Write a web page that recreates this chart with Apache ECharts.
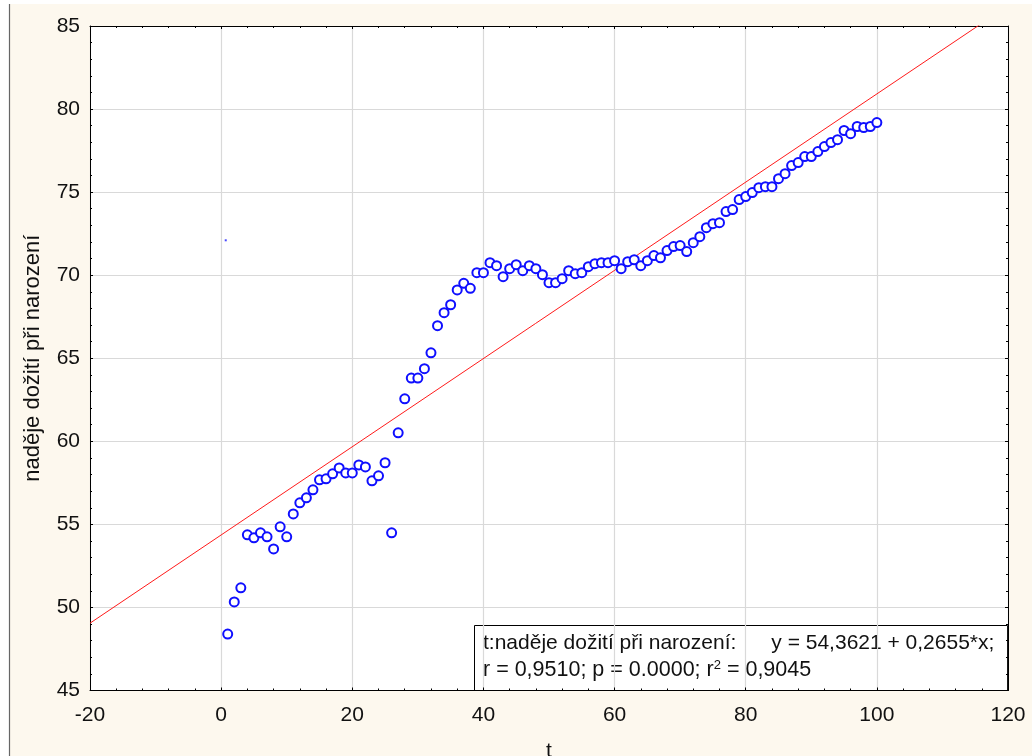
<!DOCTYPE html>
<html>
<head>
<meta charset="utf-8">
<title>naděje dožití při narození</title>
<script src="https://cdn.jsdelivr.net/npm/echarts@6/dist/echarts.min.js"></script>
<style>
  html, body { margin: 0; padding: 0; background: #ffffff; }
  #chart { width: 1032px; height: 756px; }
</style>
</head>
<body>
<div id="chart"></div>
<script>
// Time index t (x) and life expectancy at birth (y)
const tValues = [
  1, 2, 3, 4, 5, 6, 7, 8, 9, 10,
  11, 12, 13, 14, 15, 16, 17, 18, 19, 20,
  21, 22, 23, 24, 25, 26, 27, 28, 29, 30,
  31, 32, 33, 34, 35, 36, 37, 38, 39, 40,
  41, 42, 43, 44, 45, 46, 47, 48, 49, 50,
  51, 52, 53, 54, 55, 56, 57, 58, 59, 60,
  61, 62, 63, 64, 65, 66, 67, 68, 69, 70,
  71, 72, 73, 74, 75, 76, 77, 78, 79, 80,
  81, 82, 83, 84, 85, 86, 87, 88, 89, 90,
  91, 92, 93, 94, 95, 96, 97, 98, 99, 100
];
const lifeExpectancy = [
  48.40, 50.33, 51.18, 54.37, 54.19, 54.49, 54.25, 53.52, 54.85, 54.25,
  55.63, 56.30, 56.60, 57.08, 57.68, 57.74, 58.04, 58.40, 58.10, 58.10,
  58.58, 58.46, 57.62, 57.92, 58.71, 54.49, 60.51, 62.56, 63.81, 63.81,
  64.37, 65.33, 66.96, 67.74, 68.22, 69.11, 69.51, 69.21, 70.15, 70.15,
  70.75, 70.57, 69.91, 70.39, 70.63, 70.27, 70.57, 70.39, 70.03, 69.55,
  69.55, 69.79, 70.27, 70.09, 70.15, 70.51, 70.69, 70.75, 70.75, 70.87,
  70.39, 70.81, 70.93, 70.57, 70.87, 71.18, 71.05, 71.48, 71.72, 71.78,
  71.42, 71.96, 72.32, 72.86, 73.10, 73.16, 73.83, 73.95, 74.55, 74.73,
  74.97, 75.27, 75.33, 75.33, 75.81, 76.11, 76.60, 76.78, 77.14, 77.14,
  77.44, 77.74, 77.98, 78.16, 78.71, 78.52, 78.95, 78.89, 78.95, 79.19
];
// Stray single point near the y axis
const strayPoint = [[0.7, 72.1]];

// Linear fit
const intercept = 54.3621;
const slope = 0.2655;
const fitText1 = 't:naděje dožití při narození:      y = 54,3621 + 0,2655*x;';
const fitText2 = 'r = 0,9510; p = 0.0000; r{sup|2} = 0,9045';

// Axis ranges and names
const xMin = -20, xMax = 120, xStep = 20;
const yMin = 45, yMax = 85, yStep = 5;
const xName = 't';
const yName = 'naděje dožití při narození';

const points = tValues.map((t, i) => [t, lifeExpectancy[i]]);
const fitLine = [
  [xMin, intercept + slope * xMin],
  [xMax, intercept + slope * xMax]
];

const FONT = '"Liberation Sans", Arial, sans-serif';
const GRID = { left: 90, right: 24, top: 26, bottom: 65.5 };

const baseAxis = {
  axisLine: { show: true, onZero: false, lineStyle: { color: '#000', width: 1 } },
  axisTick: { show: true, inside: true, length: 3, lineStyle: { color: '#000' } },
  minorTick: { show: true, splitNumber: 5, length: 2, lineStyle: { color: '#000' } },
  axisLabel: { color: '#111', fontFamily: FONT, fontSize: 21 },
  splitLine: { show: true, lineStyle: { color: '#d9d9d9', width: 1.2 } }
};

const chart = echarts.init(document.getElementById('chart'), null, { renderer: 'canvas' });
chart.setOption({
  animation: false,
  backgroundColor: '#ffffff',
  graphic: [
    { type: 'rect', z: -10, silent: true, shape: { x: 10, y: 4, width: 1022, height: 752 }, style: { fill: '#fdf8ee' } },
    { type: 'line', z: -9, silent: true, shape: { x1: 9.5, y1: 4, x2: 9.5, y2: 756 }, style: { stroke: '#666', lineWidth: 1.2 } },
    {
      type: 'group', z: 100,
      children: [
        { type: 'rect', shape: { x: 474.5, y: 625.5, width: 533, height: 65 }, style: { fill: '#ffffff', stroke: '#000', lineWidth: 1 } },
        { type: 'text', x: 483, y: 643, style: { text: fitText1, font: '21px ' + FONT, fill: '#111', verticalAlign: 'middle' } },
        {
          type: 'text', x: 483, y: 670,
          style: {
            text: fitText2, font: '21.5px ' + FONT, fill: '#111', verticalAlign: 'middle',
            rich: { sup: { fontSize: 13, fontFamily: FONT, verticalAlign: 'top', padding: [0, 0, 10, 0], fill: '#111' } }
          }
        }
      ]
    }
  ],
  grid: Object.assign({ show: true, backgroundColor: '#ffffff', borderWidth: 0, outerBoundsMode: 'none', containLabel: false }, GRID),
  xAxis: [
    Object.assign({}, baseAxis, {
      type: 'value', min: xMin, max: xMax, interval: xStep,
      name: xName, nameLocation: 'middle', nameGap: 50,
      nameTextStyle: { color: '#111', fontFamily: FONT, fontSize: 21 },
      axisLabel: Object.assign({}, baseAxis.axisLabel, { margin: 14 })
    }),
    Object.assign({}, baseAxis, {
      type: 'value', position: 'top', min: xMin, max: xMax, interval: xStep,
      axisLabel: { show: false }, splitLine: { show: false }
    })
  ],
  yAxis: [
    Object.assign({}, baseAxis, {
      type: 'value', min: yMin, max: yMax, interval: yStep,
      name: yName, nameLocation: 'middle', nameGap: 46, nameRotate: 90,
      nameTextStyle: { color: '#111', fontFamily: FONT, fontSize: 22 },
      axisLabel: Object.assign({}, baseAxis.axisLabel, { margin: 10 })
    }),
    Object.assign({}, baseAxis, {
      type: 'value', position: 'right', min: yMin, max: yMax, interval: yStep,
      axisLabel: { show: false }, splitLine: { show: false }
    })
  ],
  series: [
    {
      type: 'line', data: fitLine, symbol: 'none', clip: true, z: 2,
      lineStyle: { color: '#ff1a1a', width: 1 }, silent: true
    },
    {
      type: 'scatter', data: points, symbol: 'emptyCircle', symbolSize: 9, z: 3,
      itemStyle: { color: '#0f0fff', borderColor: '#0f0fff', borderWidth: 2, opacity: 1 }
    },
    {
      type: 'scatter', data: strayPoint, symbol: 'rect', symbolSize: 2, z: 3,
      itemStyle: { color: '#1a1aff' }
    }
  ]
});
</script>
</body>
</html>
